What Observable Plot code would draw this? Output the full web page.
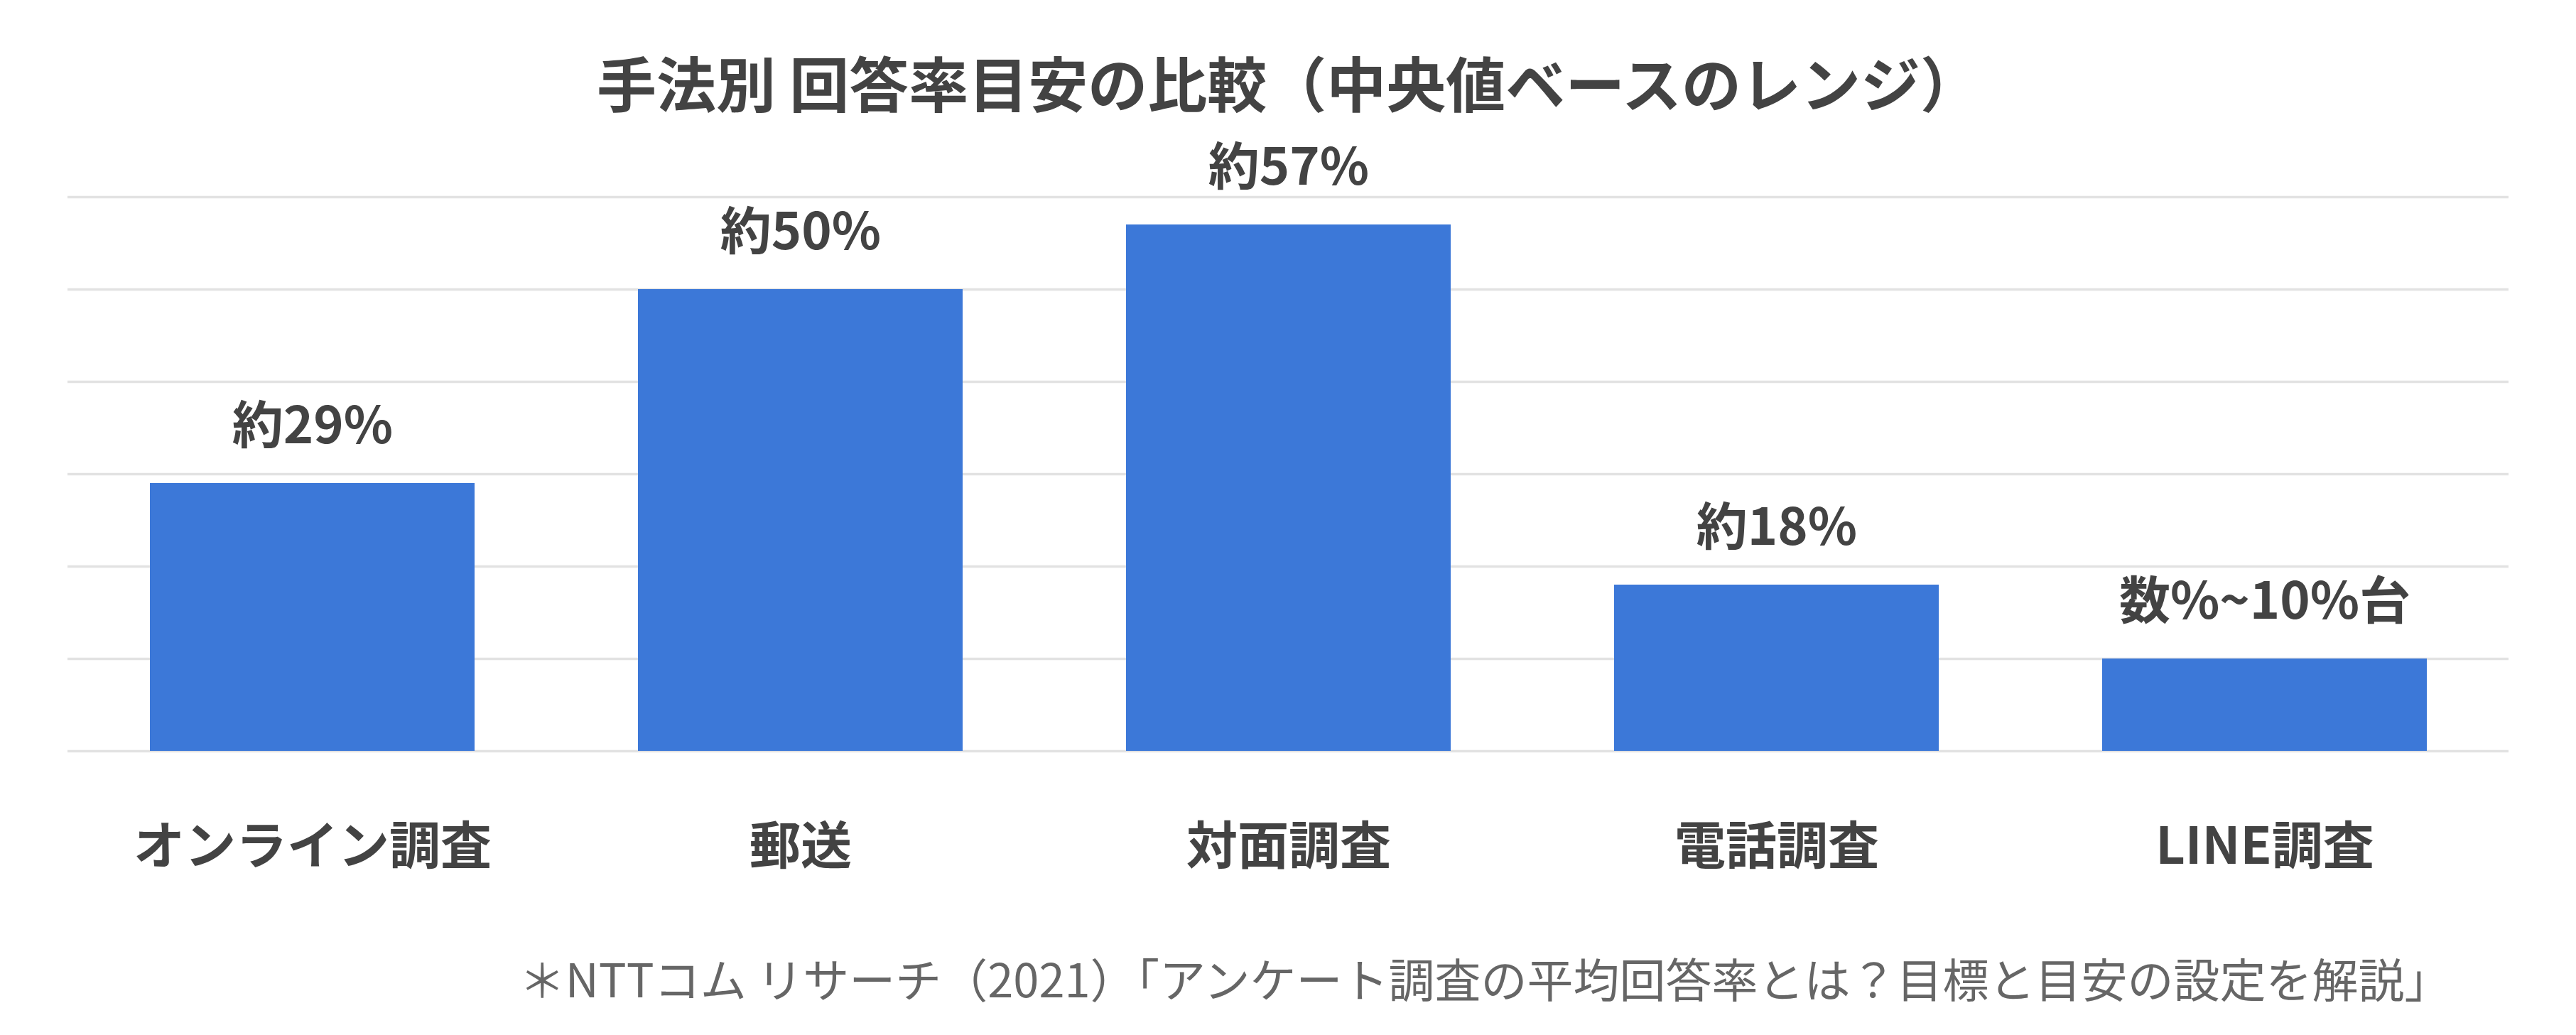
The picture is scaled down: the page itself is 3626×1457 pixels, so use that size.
<!DOCTYPE html>
<html>
<head>
<meta charset="utf-8">
<script src="https://cdn.jsdelivr.net/npm/d3@7"></script>
<script src="https://cdn.jsdelivr.net/npm/@observablehq/plot@0.6"></script>
<style>
  html, body { margin: 0; padding: 0; background: #ffffff; }
</style>
</head>
<body>
<div id="chart"></div>
<script>
const titleText = "手法別 回答率目安の比較（中央値ベースのレンジ）";
const captionText = "＊NTTコム リサーチ（2021）「アンケート調査の平均回答率とは？目標と目安の設定を解説」";
const categories = ["オンライン調査", "郵送", "対面調査", "電話調査", "LINE調査"];
const values = [29, 50, 57, 18, 10];
const valueLabels = ["約29%", "約50%", "約57%", "約18%", "数%~10%台"];
const yTicks = [0, 10, 20, 30, 40, 50, 60];

const data = categories.map((c, i) => ({cat: c, value: values[i], label: valueLabels[i]}));

const font = "'Noto Sans CJK JP', 'Noto Sans', sans-serif";
const textColor = "#434343";

const chart = Plot.plot({
  width: 3626,
  height: 1457,
  marginLeft: 95,
  marginRight: 95,
  marginTop: 277,
  marginBottom: 400,
  style: {fontFamily: font, background: "#ffffff", overflow: "visible"},
  x: {domain: categories, paddingInner: 0.335, paddingOuter: 0.166, label: null},
  y: {domain: [0, 60], axis: null, label: null},
  marks: [
    Plot.ruleY(yTicks, {stroke: "#e2e2e2", strokeWidth: 3.5}),
    Plot.barY(data, {x: "cat", y: "value", fill: "#3c78d8"}),
    Plot.text(data, {
      x: "cat", y: "value", text: "label",
      dy: -57, lineAnchor: "bottom",
      fontSize: 72, fontWeight: 700, fill: textColor
    }),
    Plot.axisX({
      tickSize: 0, tickPadding: 158, lineAnchor: "bottom",
      fontSize: 72, fontWeight: 700, color: textColor, label: null
    }),
    Plot.text([titleText], {
      frameAnchor: "top", dy: -127, lineAnchor: "bottom",
      fontSize: 84, fontWeight: 700, fill: textColor
    }),
    Plot.text([captionText], {
      frameAnchor: "bottom-right", dx: -82, dy: 346, lineAnchor: "bottom",
      textAnchor: "end",
      fontSize: 65, fontWeight: 400, fill: "#666666"
    })
  ]
});

document.getElementById("chart").appendChild(chart);
</script>
</body>
</html>
